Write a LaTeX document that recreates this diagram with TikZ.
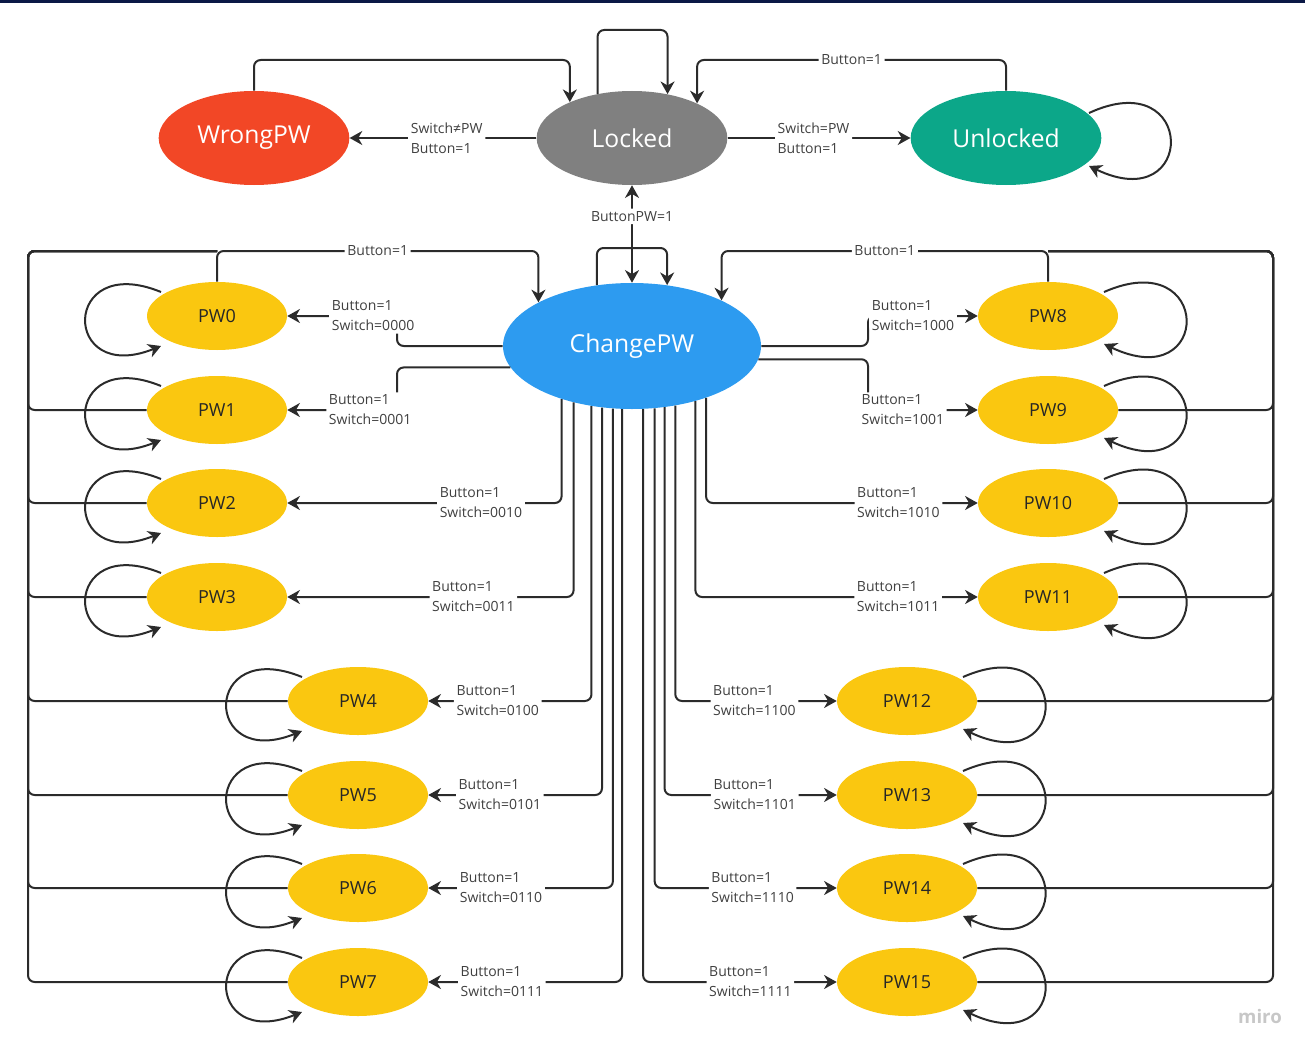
\documentclass[tikz,border=0pt]{standalone}
\usepackage{fontspec}
\setmainfont{Open Sans}
\usetikzlibrary{shapes.geometric, arrows.meta, calc}
\definecolor{cWrong}{HTML}{F24726}
\definecolor{cLocked}{HTML}{808080}
\definecolor{cUnlocked}{HTML}{0CA789}
\definecolor{cChange}{HTML}{2D9BF0}
\definecolor{cPW}{HTML}{FAC710}
\definecolor{cLine}{HTML}{2B2B2B}
\definecolor{cLab}{HTML}{404040}
\definecolor{cNavy}{HTML}{0B1846}
\newcommand{\pwloopL}[1]{\draw[arr] ($(#1)+(-56,-24)$) .. controls ($(#1)+(-156,-65)$) and ($(#1)+(-156,70)$) .. ($(#1)+(-56,30)$);}
\newcommand{\pwloopR}[1]{\draw[arr] ($(#1)+(56,-24)$) .. controls ($(#1)+(165,-72)$) and ($(#1)+(165,80)$) .. ($(#1)+(56,28)$);}
\begin{document}
\begin{tikzpicture}[x=0.75pt, y=-0.75pt,
  big/.style={ellipse, minimum width=143pt, minimum height=70.5pt, inner sep=0pt, text=white, font=\fontsize{18.5}{20}\selectfont},
  pw/.style={ellipse, fill=cPW, minimum width=105pt, minimum height=51pt, inner sep=0pt, text=black!85, font=\fontsize{13.5}{15}\selectfont},
  conn/.style={draw=cLine, line width=1.5pt, rounded corners=5pt},
  arr/.style={conn, -{Stealth[length=9.5pt,width=10.5pt,inset=3pt]}},
  arrboth/.style={conn, {Stealth[length=9.5pt,width=10.5pt,inset=3pt]}-{Stealth[length=9.5pt,width=10.5pt,inset=3pt]}},
  lab/.style={fill=white, inner sep=2pt, align=left, text=cLab, font=\fontsize{10.5}{15}\selectfont},
]
\useasboundingbox (0,0) rectangle (1305,1052);
\fill[cNavy] (0,0) rectangle (1305,3);

% main states
\node[big, fill=cWrong] (WrongPW) at (254,138) {WrongPW};
\node[big, fill=cLocked] (Locked) at (632,138) {Locked};
\node[big, fill=cUnlocked] (Unlocked) at (1006,138) {Unlocked};
\node[big, fill=cChange, minimum width=193.5pt, minimum height=94.5pt] (ChangePW) at (632,346) {ChangePW};

% PW states
\foreach \n/\x/\y in {0/217/316, 1/217/410, 2/217/503, 3/217/597, 4/358/701, 5/358/795, 6/358/888, 7/358/982, 8/1048/316, 9/1048/410, 10/1048/503, 11/1048/597, 12/907/701, 13/907/795, 14/907/888, 15/907/982}
  \node[pw] (PW\n) at (\x,\y) {PW\n};

\node[text=black!22, font=\fontsize{14}{14}\selectfont\bfseries] (miro) at (1260,1016) {miro};

% helper coordinates
\coordinate (yTop) at (0,60);
\coordinate (yLoop) at (0,30);
\coordinate (yCh) at (0,248);
\coordinate (yBus) at (0,251);
\coordinate (busL) at (28,251);
\coordinate (busR) at (1273,251);
\coordinate (k0) at (397,316);
\coordinate (k1) at (397,410);
\coordinate (k8) at (868,316);
\coordinate (k9) at (868,410);

% top row
\draw[arr] (Locked.west) -- node[lab, pos=0.48]{Switch≠PW\\Button=1} (WrongPW.east);
\draw[arr] (Locked.east) -- node[lab, pos=0.47]{Switch=PW\\Button=1} (Unlocked.west);
\draw[arr] (WrongPW.north) -- (WrongPW.north |- yTop) -| (Locked.150);
\draw[arr] (Locked.128.6) -- (Locked.128.6 |- yLoop) -| (Locked.51.4);
\draw[arr] (Unlocked.north) -- (Unlocked.north |- yTop) -- node[lab]{Button=1} (Locked.28 |- yTop) -- (Locked.28);
\draw[arr] ($(Unlocked)+(83,-25)$) .. controls ($(Unlocked)+(191,-75)$) and ($(Unlocked)+(191,80)$) .. ($(Unlocked)+(83,28)$);

% Locked <-> ChangePW
\draw[arrboth] (Locked.south) -- node[lab, pos=0.32]{ButtonPW=1} (ChangePW.north);
\draw[arr] (ChangePW.120) -- (ChangePW.120 |- yCh) -| (ChangePW.60);

% Button=1 returns
\draw[arr] (PW0.north) -- (PW0.north |- yBus) -- node[lab]{Button=1} (ChangePW.155.4 |- yBus) -- (ChangePW.155.4);
\draw[arr] (PW8.north) -- (PW8.north |- yBus) -- node[lab]{Button=1} (ChangePW.27.6 |- yBus) -- (ChangePW.27.6);
\foreach \n in {1,...,7} \draw[conn] (PW\n.west) -| (busL) -- (PW0.north |- yBus);
\foreach \n in {9,...,15} \draw[conn] (PW\n.east) -| (busR) -- (PW8.north |- yBus);

% ChangePW -> PWn
\draw[arr] (ChangePW.west) -| (k0) -- node[lab, pos=0.218]{Button=1\\Switch=0000} (PW0.east);
\draw[arr] (ChangePW.190) -| (k1) -- node[lab, pos=0.245]{Button=1\\Switch=0001} (PW1.east);
\draw[arr] (ChangePW.east) -| (k8) -- node[lab, pos=0.41]{Button=1\\Switch=1000} (PW8.west);
\draw[arr] (ChangePW.354) -| (k9) -- node[lab, pos=0.318]{Button=1\\Switch=1001} (PW9.west);
\draw[arr] (ChangePW.217.6) |- node[lab, pos=0.647]{Button=1\\Switch=0010} (PW2.east);
\draw[arr] (ChangePW.224.75) |- node[lab, pos=0.675]{Button=1\\Switch=0011} (PW3.east);
\draw[arr] (ChangePW.236.3) |- node[lab, pos=0.787]{Button=1\\Switch=0100} (PW4.east);
\draw[arr] (ChangePW.244.7) |- node[lab, pos=0.794]{Button=1\\Switch=0101} (PW5.east);
\draw[arr] (ChangePW.253.0) |- node[lab, pos=0.803]{Button=1\\Switch=0110} (PW6.east);
\draw[arr] (ChangePW.261.9) |- node[lab, pos=0.81]{Button=1\\Switch=0111} (PW7.east);
\draw[arr] (ChangePW.280.8) |- node[lab, pos=0.777]{Button=1\\Switch=1111} (PW15.west);
\draw[arr] (ChangePW.290.35) |- node[lab, pos=0.769]{Button=1\\Switch=1110} (PW14.west);
\draw[arr] (ChangePW.298.45) |- node[lab, pos=0.762]{Button=1\\Switch=1101} (PW13.west);
\draw[arr] (ChangePW.306.6) |- node[lab, pos=0.745]{Button=1\\Switch=1100} (PW12.west);
\draw[arr] (ChangePW.319.5) |- node[lab, pos=0.859]{Button=1\\Switch=1011} (PW11.west);
\draw[arr] (ChangePW.325.6) |- node[lab, pos=0.854]{Button=1\\Switch=1010} (PW10.west);

% self loops
\foreach \n in {0,...,7} {\pwloopL{PW\n}}
\foreach \n in {8,...,15} {\pwloopR{PW\n}}
\end{tikzpicture}
\end{document}
